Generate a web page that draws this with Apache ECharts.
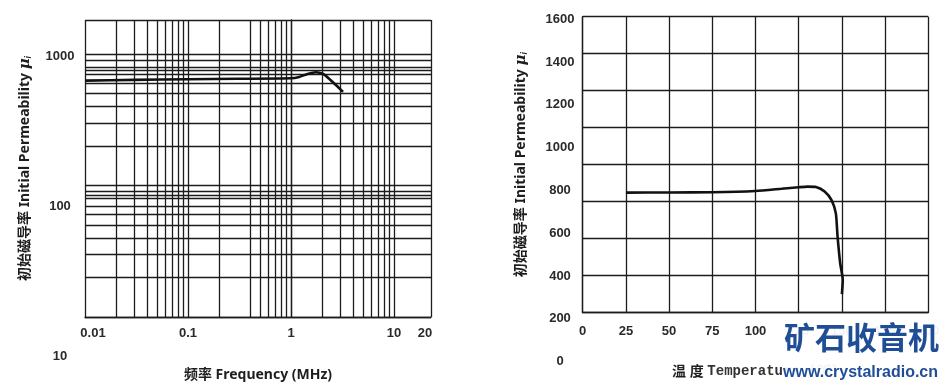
<!DOCTYPE html>
<html><head><meta charset="utf-8">
<script src="https://cdn.jsdelivr.net/npm/echarts@6/dist/echarts.min.js"></script>
<style>html,body{margin:0;padding:0;background:#fff}#c{width:950px;height:386px}</style>
</head><body><div id="c"></div>
<script>
// ---------- Left chart: initial permeability vs frequency ----------
const freqMHz   = [0.01, 0.03, 0.1, 0.3, 1.0, 1.2, 1.45, 1.75, 2.1, 2.6, 3.2];
const muVsFreq  = [690, 698, 705, 710, 715, 730, 765, 785, 758, 665, 580];
const freqTickLabels = [0.01, 0.1, 1, 10, 20];
const freqGridLines  = [0.02,0.03,0.04,0.05,0.06,0.07,0.08,0.09,0.1,
                        0.2,0.4,0.5,0.6,0.7,0.8,0.9,1,
                        2,3,4,5,6,7,8,9,10];
const muFreqTickLabels = [10, 100, 1000];
const muFreqGridLines  = [20,30,40,50,60,70,80,85,90,100,
                          200,300,400,500,600,700,750,800,900,1000];

// ---------- Right chart: initial permeability vs temperature ----------
const tempC     = [25, 50, 75, 100, 115, 125, 130, 135, 140, 144, 146.5, 147.5, 149, 150.5, 150];
const muVsTemp  = [790, 791, 792, 798, 808, 815, 818, 816, 795, 755, 693, 584, 460, 382, 316];
const tempTickLabels   = [0, 25, 50, 75, 100, 125, 150, 175, 200];
const muTempTickLabels = [0, 200, 400, 600, 800, 1000, 1200, 1400, 1600];

const L = Math.log10;
const freqMax = 22.86;       // right edge of the frequency frame
const gridMuMax = 1815;      // top edge of the (squeezed) log grid
const near = (a, b) => Math.abs(a - b) < 1e-6;

const lineCol = '#1c1c1c';
const gridLine = {color: lineCol, width: 1.3};
const labelFont = {fontFamily: 'Liberation Sans, Arial, sans-serif', fontSize: 13, fontWeight: 'bold', color: '#2a2a2a'};
const titleFont = {fontFamily: 'Noto Sans, "Noto Sans CJK SC", sans-serif', fontSize: 14, fontWeight: 'bold', color: '#1e1e1e'};
const muRich = {
  mu: {fontFamily: 'DejaVu Serif', fontStyle: 'italic', fontSize: 15, fontWeight: 'bold', color: '#1e1e1e'},
  sub: {fontSize: 8, fontStyle: 'italic', verticalAlign: 'bottom', color: '#1e1e1e', padding: [6, 0, 0, 0]}
};

const chart = echarts.init(document.getElementById('c'));
chart.setOption({
  animation: false,
  backgroundColor: '#fff',
  grid: [
    {left: 85, right: 519, top: 56.5, bottom: 30, outerBoundsMode: 'none'},
    {left: 85, right: 519, top: 20, bottom: 69, outerBoundsMode: 'none'},
    {left: 582.7, right: 21.7, top: 19.3, bottom: 24.3, outerBoundsMode: 'none'},
    {left: 582.7, right: 21.7, top: 16.7, bottom: 73.3, outerBoundsMode: 'none'}
  ],
  xAxis: [
    {gridIndex: 0, type: 'value', min: L(freqTickLabels[0]), max: L(freqMax), show: false},
    {gridIndex: 1, type: 'value', min: L(freqTickLabels[0]), max: L(freqMax),
      axisLine: {show: true, lineStyle: gridLine},
      axisTick: {show: false, customValues: [L(freqTickLabels[0])].concat(freqGridLines.map(L), [L(freqMax)])},
      splitLine: {show: true, lineStyle: gridLine},
      axisLabel: Object.assign({
        customValues: freqTickLabels.map(L), margin: 10, showMinLabel: true, showMaxLabel: true,
        formatter: v => {
          const t = freqTickLabels.find(x => near(L(x), v));
          return t === freqTickLabels[0] ? '{first|' + t + '}' : String(t);
        },
        rich: {first: Object.assign({padding: [0, 0, 0, 16]}, labelFont)}
      }, labelFont),
      name: '频率 Frequency (MHz)', nameLocation: 'middle', nameGap: 51, nameTextStyle: titleFont},
    {gridIndex: 2, type: 'value', min: tempTickLabels[0], max: tempTickLabels[tempTickLabels.length-1], show: false},
    {gridIndex: 3, type: 'value', min: tempTickLabels[0], max: tempTickLabels[tempTickLabels.length-1], interval: 25,
      axisLine: {show: true, lineStyle: gridLine},
      axisTick: {show: false},
      splitLine: {show: true, lineStyle: gridLine},
      axisLabel: Object.assign({margin: 12, showMinLabel: true, showMaxLabel: true, formatter: v => String(v)}, labelFont),
      name: '{cn|温 度} {en|Temperature (℃)}', nameLocation: 'middle', nameGap: 52,
      nameTextStyle: Object.assign({}, titleFont, {rich: {
        cn: Object.assign({}, titleFont),
        en: {fontFamily: 'Liberation Mono, monospace', fontSize: 14, color: '#333'}
      }})}
  ],
  yAxis: [
    {gridIndex: 0, type: 'value', min: L(muFreqTickLabels[0]), max: L(muFreqTickLabels[2]), interval: 1,
      axisLine: {show: false}, axisTick: {show: false}, splitLine: {show: false},
      axisLabel: Object.assign({align: 'center', margin: 25, showMinLabel: true, showMaxLabel: true,
        formatter: v => String(muFreqTickLabels.find(x => near(L(x), v)))}, labelFont)},
    {gridIndex: 1, type: 'value', min: 1, max: L(gridMuMax),
      axisLine: {show: true, lineStyle: gridLine},
      axisTick: {show: false, customValues: [1].concat(muFreqGridLines.map(L), [L(gridMuMax)])},
      splitLine: {show: true, lineStyle: gridLine},
      axisLabel: {show: false},
      name: '初始磁导率 Initial Permeability {mu|μ}{sub|i}', nameLocation: 'middle', nameRotate: 90, nameGap: 52,
      nameTextStyle: Object.assign({}, titleFont, {rich: muRich})},
    {gridIndex: 2, type: 'value', min: muTempTickLabels[0], max: muTempTickLabels[muTempTickLabels.length-1], interval: 200,
      axisLine: {show: false}, axisTick: {show: false}, splitLine: {show: false},
      axisLabel: Object.assign({align: 'center', margin: 22.7, showMinLabel: true, showMaxLabel: true,
        formatter: v => String(v)}, labelFont)},
    {gridIndex: 3, type: 'value', min: 0, max: 8, interval: 1,
      axisLine: {show: true, lineStyle: gridLine},
      axisTick: {show: false},
      splitLine: {show: true, lineStyle: gridLine},
      axisLabel: {show: false},
      name: '初始磁导率 Initial Permeability {mu|μ}{sub|i}', nameLocation: 'middle', nameRotate: 90, nameGap: 54,
      nameTextStyle: Object.assign({}, titleFont, {rich: muRich})}
  ],
  series: [
    {type: 'line', xAxisIndex: 0, yAxisIndex: 0, symbol: 'none', smooth: 0.2,
      lineStyle: {color: '#111', width: 2.6},
      data: freqMHz.map((f, i) => [L(f), L(muVsFreq[i])])},
    {type: 'line', xAxisIndex: 2, yAxisIndex: 2, symbol: 'none', smooth: 0.2,
      lineStyle: {color: '#111', width: 2.6},
      data: tempC.map((t, i) => [t, muVsTemp[i]])}
  ],
  graphic: [
    {type: 'rect', left: 782, top: 318, shape: {width: 168, height: 68}, style: {fill: 'rgba(255,255,255,0.94)'}, z: 100},
    {type: 'text', left: 784, top: 322, z: 101,
      style: {text: '矿石收音机', font: 'bold 31px "Noto Sans CJK SC"', fill: '#1f4e96'}},
    {type: 'text', left: 783, top: 365, z: 101,
      style: {text: 'www.crystalradio.cn', font: 'bold 16px "Liberation Sans"', fill: '#1f4e96'}}
  ]
});
</script></body></html>
